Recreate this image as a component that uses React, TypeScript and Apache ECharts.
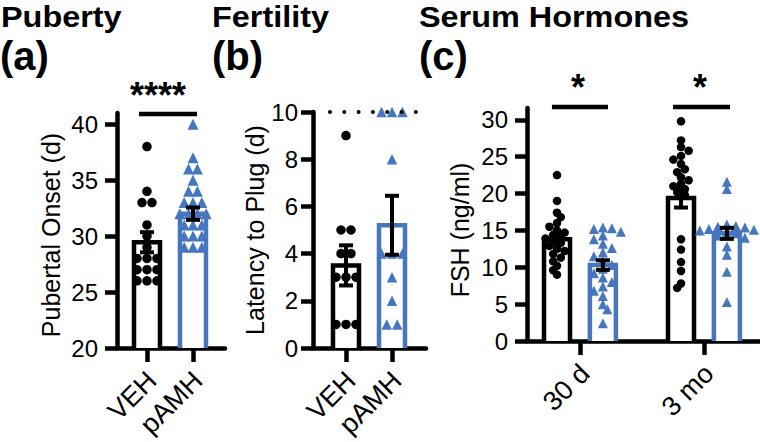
import React, { useEffect, useRef } from "react";
import * as echarts from "echarts";

// ---------- data ----------
const groupNames = ["VEH", "pAMH"];
const ageNames = ["30 d", "3 mo"];

const titles = ["Puberty", "Fertility", "Serum Hormones"];
const panelLetters = ["(a)", "(b)", "(c)"];
const yTitles = ["Pubertal Onset (d)", "Latency to Plug (d)", "FSH (ng/ml)"];

const yTicksA = [20, 25, 30, 35, 40];
const yTicksB = [0, 2, 4, 6, 8, 10];
const yTicksC = [0, 5, 10, 15, 20, 25, 30];

// (a) pubertal onset, days
const onsetVEH = [38, 34, 33, 33, 31, 30, 29, 28, 28, 28, 27, 27, 27, 26, 26, 26];
const onsetPAMH = [40, 37, 36, 36, 35, 34, 34, 33, 33, 33, 32, 32, 32, 32, 31, 31, 31, 30, 30, 30, 29, 29, 29];
const onsetMean = [29.45, 32.0];
const onsetSem = [0.9, 0.55];

// (b) latency to plug, days
const plugVEH = [9, 5, 5, 4, 4, 3, 3, 3, 1, 1, 1];
const plugPAMH = [10, 10, 10, 8, 4, 4, 4, 3, 2, 1, 1];
const plugMean = [3.5, 5.2];
const plugSem = [0.85, 1.25];
const plugCutoff = 10;

// (c) FSH, ng/ml
const fsh30VEH = [22.5, 19.0, 17.4, 16.8, 16.0, 15.5, 15.0, 14.7, 14.4, 14.1, 13.9, 13.6, 13.3, 12.9, 12.5, 12.2, 11.8, 11.3, 10.8, 10.2, 9.6, 9.0];
const fsh30PAMH = [15.4, 15.3, 15.2, 14.8, 14.3, 13.8, 13.2, 12.6, 12.0, 11.5, 10.8, 10.3, 9.8, 9.2, 8.6, 8.0, 7.4, 6.8, 6.1, 5.0, 4.3, 2.4];
const fsh3mVEH = [29.8, 27.2, 26.3, 25.8, 25.1, 24.6, 24.0, 23.3, 22.9, 22.2, 21.8, 21.3, 21.0, 20.6, 20.2, 19.8, 13.8, 12.4, 10.7, 9.5, 7.8, 7.2];
const fsh3mPAMH = [21.6, 20.6, 15.8, 15.6, 15.5, 15.4, 15.2, 15.1, 15.0, 14.8, 14.6, 14.3, 14.0, 12.8, 11.7, 9.4, 5.3];
const fshMeanVEH = [13.8, 19.4];
const fshMeanPAMH = [10.3, 14.6];
const fshSemVEH = [0.65, 1.3];
const fshSemPAMH = [0.65, 0.75];

// significance: [x1, x2, y, labelX]
const sigA = [[-0.174, 1.087, 40.9, 0.239]];
const sigALabels = ["****"];
const sigC = [[-0.226, 0.226, 31.74, -0.016], [0.75, 1.21, 31.74, 0.968]];
const sigCLabels = ["*", "*"];

// ---------- styling / layout ----------
const FONT = "'Liberation Sans', Arial, Helvetica, sans-serif";
const BLACK = "#000000";
const BLUE = "#4676be";
const LW = 4.5;
const BAR_W = 26;
const CAP_W = 14;
const PAIR_OFF = 0.185; // half distance between paired bars in (c), axis units

const PANELS = [
  { left: 117, top: 113, width: 108, height: 235, xMin: -0.652, xMax: 1.696, yMin: 20, yMax: 41, cats: groupNames, ticks: yTicksA, nameGap: 54, namePad: 9, labelMargin: 19, minDist: 0.92 },
  { left: 313, top: 112, width: 113, height: 236, xMin: -0.717, xMax: 1.739, yMin: 0, yMax: 10, cats: groupNames, ticks: yTicksB, nameGap: 46, namePad: 0, labelMargin: 15, minDist: 0.92 },
  { left: 527, top: 108, width: 233, height: 233, xMin: -0.427, xMax: 1.452, yMin: 0, yMax: 31.6, cats: ageNames, ticks: yTicksC, nameGap: 55, namePad: 11, labelMargin: 19, minDist: 0.68 },
];

function swarm(vals: number[], pxY: number, pxX: number, size: number, gapF: number, minDist: number) {
  const placed: number[][] = [];
  const off = new Array(vals.length).fill(0);
  const idx = vals.map((_, i) => i).sort((a, b) => vals[b] - vals[a]);
  let k = 0;
  let flip = 1;
  while (k < idx.length) {
    let j = k;
    while (j < idx.length && vals[idx[j]] === vals[idx[k]]) j++;
    const n = j - k;
    const py = vals[idx[k]] * pxY;
    const gap = size * gapF;
    const shifts = [0];
    for (let s = 1; s < 40; s++) shifts.push(flip * s * size * 0.45, -flip * s * size * 0.45);
    let chosen = 0;
    for (const sh of shifts) {
      const xs = Array.from({ length: n }, (_, q) => (q - (n - 1) / 2) * gap + sh);
      if (xs.every((x) => placed.every((p) => Math.hypot(p[0] - x, p[1] - py) >= size * minDist))) {
        chosen = sh;
        break;
      }
    }
    if (chosen !== 0) flip = -flip;
    for (let q = 0; q < n; q++) {
      const x = (q - (n - 1) / 2) * gap + chosen;
      placed.push([x, py]);
      off[idx[k + q]] = x / pxX;
    }
    k = j;
  }
  return off;
}

type Grp = { x: number; vals: number[]; mean: number; sem: number; color: string; symbol: string; size: number; gap: number };

function buildPanelSeries(pi: number, groups: Grp[]) {
  const p = PANELS[pi];
  const pxY = p.height / (p.yMax - p.yMin);
  const pxX = p.width / (p.xMax - p.xMin);
  const series: any[] = [];
  const colors = groups.map((g) => g.color);
  series.push({
    type: "custom",
    xAxisIndex: pi,
    yAxisIndex: pi,
    silent: true,
    clip: false,
    z: 2,
    data: groups.map((g, i) => [g.x, g.mean, i]),
    renderItem: (params: any, api: any) => {
      const x = api.value(0);
      const m = api.value(1);
      const c = colors[api.value(2)];
      const top = api.coord([x, m]);
      const bot = api.coord([x, p.yMin]);
      const l = top[0] - BAR_W / 2;
      const r = top[0] + BAR_W / 2;
      return {
        type: "group",
        children: [
          { type: "rect", shape: { x: l, y: top[1], width: BAR_W, height: bot[1] - top[1] }, style: { fill: "#ffffff", stroke: null } },
          { type: "polyline", shape: { points: [[l, bot[1]], [l, top[1]], [r, top[1]], [r, bot[1]]] }, style: { stroke: c, lineWidth: LW, fill: null, lineJoin: "miter" } },
        ],
      };
    },
  });
  groups.forEach((g) => {
    const off = swarm(g.vals, pxY, pxX, g.size, g.gap, p.minDist);
    series.push({
      type: "scatter",
      xAxisIndex: pi,
      yAxisIndex: pi,
      clip: false,
      silent: true,
      z: 3,
      symbol: g.symbol,
      symbolSize: g.size,
      itemStyle: { color: g.color, opacity: 1 },
      data: g.vals.map((v, i) => [g.x + off[i], v]),
    });
  });
  series.push({
    type: "custom",
    xAxisIndex: pi,
    yAxisIndex: pi,
    silent: true,
    clip: false,
    z: 5,
    data: groups.map((g) => [g.x, g.mean, g.sem]),
    renderItem: (params: any, api: any) => {
      const x = api.value(0);
      const m = api.value(1);
      const s = api.value(2);
      const hi = api.coord([x, m + s]);
      const lo = api.coord([x, m - s]);
      const st = { stroke: BLACK, lineWidth: 4 };
      return {
        type: "group",
        children: [
          { type: "line", shape: { x1: hi[0], y1: hi[1], x2: lo[0], y2: lo[1] }, style: st },
          { type: "line", shape: { x1: hi[0] - CAP_W / 2, y1: hi[1], x2: hi[0] + CAP_W / 2, y2: hi[1] }, style: st },
          { type: "line", shape: { x1: lo[0] - CAP_W / 2, y1: lo[1], x2: lo[0] + CAP_W / 2, y2: lo[1] }, style: st },
        ],
      };
    },
  });
  return series;
}

function sigSeries(pi: number, rows: number[][], labels: string[]) {
  return {
    type: "custom",
    xAxisIndex: pi,
    yAxisIndex: pi,
    silent: true,
    clip: false,
    z: 6,
    data: rows.map((r, i) => [...r, i]),
    renderItem: (params: any, api: any) => {
      const a = api.coord([api.value(0), api.value(2)]);
      const b = api.coord([api.value(1), api.value(2)]);
      const t = api.coord([api.value(3), api.value(2)]);
      return {
        type: "group",
        children: [
          { type: "line", shape: { x1: a[0], y1: a[1], x2: b[0], y2: b[1] }, style: { stroke: BLACK, lineWidth: 4.5 } },
          {
            type: "text",
            x: t[0],
            y: a[1] - 19,
            style: { text: labels[api.value(4)], fill: BLACK, font: `bold 36px ${FONT}`, align: "center", verticalAlign: "middle" },
          },
        ],
      };
    },
  };
}

export default function App() {
  const ref = useRef<HTMLDivElement>(null);
  useEffect(() => {
    if (!ref.current) return;
    const chart = echarts.init(ref.current, undefined, { renderer: "svg" });

    const series: any[] = [];
    series.push(
      ...buildPanelSeries(0, [
        { x: 0, vals: onsetVEH, mean: onsetMean[0], sem: onsetSem[0], color: BLACK, symbol: "circle", size: 9.5, gap: 1.05 },
        { x: 1, vals: onsetPAMH, mean: onsetMean[1], sem: onsetSem[1], color: BLUE, symbol: "triangle", size: 11, gap: 0.8 },
      ])
    );
    series.push(
      ...buildPanelSeries(1, [
        { x: 0, vals: plugVEH, mean: plugMean[0], sem: plugSem[0], color: BLACK, symbol: "circle", size: 9.5, gap: 1.05 },
        { x: 1, vals: plugPAMH, mean: plugMean[1], sem: plugSem[1], color: BLUE, symbol: "triangle", size: 10.5, gap: 1.0 },
      ])
    );
    series.push({
      type: "line",
      xAxisIndex: 1,
      yAxisIndex: 1,
      silent: true,
      clip: false,
      z: 4,
      symbol: "none",
      data: [[-0.348, plugCutoff], [PANELS[1].xMax, plugCutoff]],
      lineStyle: { color: BLACK, width: 4, type: [0.01, 14.3], cap: "round" },
    });
    series.push(
      ...buildPanelSeries(2, [
        { x: 0 - PAIR_OFF, vals: fsh30VEH, mean: fshMeanVEH[0], sem: fshSemVEH[0], color: BLACK, symbol: "circle", size: 8.5, gap: 1.0 },
        { x: 0 + PAIR_OFF, vals: fsh30PAMH, mean: fshMeanPAMH[0], sem: fshSemPAMH[0], color: BLUE, symbol: "triangle", size: 10, gap: 1.0 },
        { x: 1 - PAIR_OFF, vals: fsh3mVEH, mean: fshMeanVEH[1], sem: fshSemVEH[1], color: BLACK, symbol: "circle", size: 8.5, gap: 1.0 },
        { x: 1 + PAIR_OFF, vals: fsh3mPAMH, mean: fshMeanPAMH[1], sem: fshSemPAMH[1], color: BLUE, symbol: "triangle", size: 10, gap: 1.0 },
      ])
    );
    series.push(sigSeries(0, sigA, sigALabels));
    series.push(sigSeries(2, sigC, sigCLabels));

    const axisLineStyle = { color: BLACK, width: LW };
    const titleFont = `bold 30px ${FONT}`;
    const letterFont = `bold 40px ${FONT}`;
    const option: any = {
      animation: false,
      backgroundColor: "#ffffff",
      grid: PANELS.map((p) => ({ left: p.left, top: p.top, width: p.width, height: p.height, containLabel: false, outerBoundsMode: "none" })),
      xAxis: PANELS.map((p, i) => ({
        type: "value",
        gridIndex: i,
        min: p.xMin,
        max: p.xMax,
        axisLine: { show: true, onZero: false, lineStyle: axisLineStyle },
        axisTick: { show: true, length: 14, lineStyle: axisLineStyle, customValues: [0, 1] },
        axisLabel: {
          show: true,
          customValues: [0, 1],
          formatter: (v: number) => p.cats[Math.round(v)],
          rotate: 45,
          fontSize: 27,
          color: BLACK,
          fontFamily: FONT,
          margin: 33,
          padding: [0, -7, 0, 0],
        },
        splitLine: { show: false },
      })),
      yAxis: PANELS.map((p, i) => ({
        type: "value",
        gridIndex: i,
        min: p.yMin,
        max: p.yMax,
        axisLine: { show: true, onZero: false, lineStyle: axisLineStyle },
        axisTick: { show: true, length: 12, lineStyle: axisLineStyle, customValues: p.ticks },
        axisLabel: { show: true, customValues: p.ticks, fontSize: 24, color: BLACK, fontFamily: FONT, margin: p.labelMargin },
        splitLine: { show: false },
        name: yTitles[i],
        nameLocation: "middle",
        nameRotate: 90,
        nameGap: p.nameGap,
        nameTextStyle: { fontSize: 25, color: BLACK, fontFamily: FONT, padding: [0, p.namePad, 0, 0] },
      })),
      graphic: [
        { type: "text", x: 1, y: 1.5, scaleX: 1.08, style: { text: titles[0], font: titleFont, fill: BLACK } },
        { type: "text", x: 212, y: 1.5, scaleX: 1.08, style: { text: titles[1], font: titleFont, fill: BLACK } },
        { type: "text", x: 419, y: 2, scaleX: 1.08, style: { text: titles[2], font: titleFont, fill: BLACK } },
        { type: "text", x: 0, y: 35.5, style: { text: panelLetters[0], font: letterFont, fill: BLACK } },
        { type: "text", x: 212, y: 35.5, style: { text: panelLetters[1], font: letterFont, fill: BLACK } },
        { type: "text", x: 419, y: 35.5, style: { text: panelLetters[2], font: letterFont, fill: BLACK } },
      ],
      series,
    };
    chart.setOption(option);
    return () => chart.dispose();
  }, []);
  return <div ref={ref} style={{ position: "fixed", left: 0, top: 0, width: 760, height: 442, background: "#fff" }} />;
}
